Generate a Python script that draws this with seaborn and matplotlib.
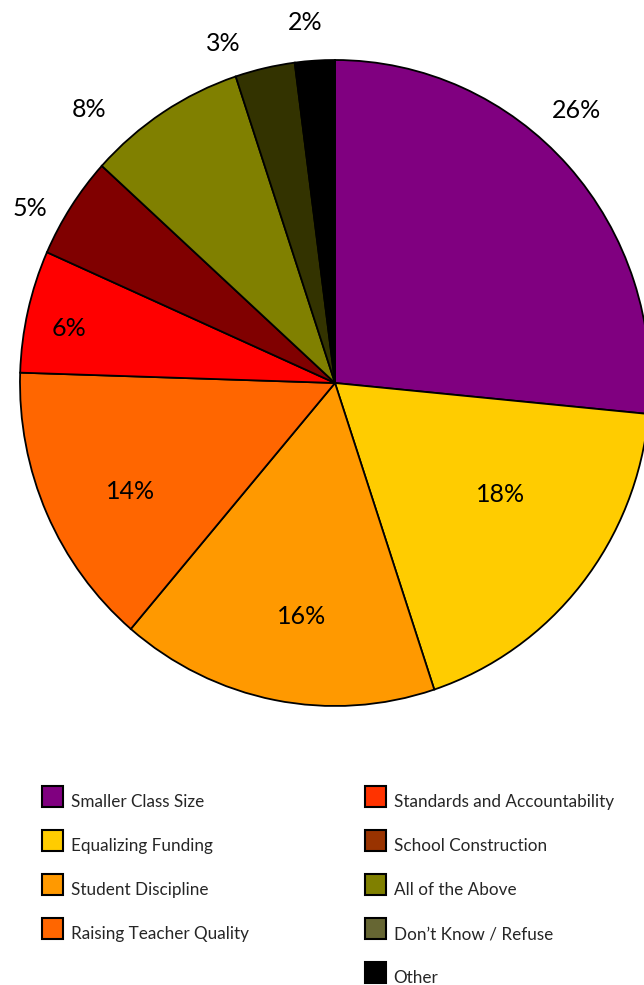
import matplotlib
matplotlib.use("Agg")
import matplotlib.pyplot as plt
from matplotlib.patches import Patch, Rectangle
from matplotlib.legend_handler import HandlerPatch
import numpy as np
import seaborn as sns

# Survey answers: which reform matters most
categories = [
    "Smaller Class Size",
    "Equalizing Funding",
    "Student Discipline",
    "Raising Teacher Quality",
    "Standards and Accountability",
    "School Construction",
    "All of the Above",
    "Don\u2019t Know / Refuse",
    "Other",
]
shares = [26, 18, 16, 14, 6, 5, 8, 3, 2]

slice_colors = ["#800080", "#FFCC00", "#FF9900", "#FF6600", "#FF0000",
                "#800000", "#808000", "#333300", "#000000"]
legend_colors = ["#800080", "#FFCC00", "#FF9900", "#FF6600", "#FF3300",
                 "#993300", "#808000", "#666633", "#000000"]

sns.set_theme(style="white")
plt.rcParams["font.family"] = ["Lato", "DejaVu Sans"]

W, H, DPI = 644, 985, 100
fig = plt.figure(figsize=(W / DPI, H / DPI), dpi=DPI)
ax = fig.add_axes([0, 0, 1, 1])

wedges, _ = ax.pie(
    shares,
    colors=slice_colors,
    startangle=90,
    counterclock=False,
    wedgeprops=dict(edgecolor="black", linewidth=1.3),
)

# pie centre and radii in pixels (slightly taller than wide)
cx, cy, rx, ry = 335, 383, 315, 323
ax.set_aspect("auto")
ax.set_xlim(-cx / rx, (W - cx) / rx)
ax.set_ylim(-(H - cy) / ry, cy / ry)
ax.axis("off")

# percentage labels: distance from centre and angular nudge (deg, ccw)
label_radius = [1.14, 0.63, 0.73, 0.73, 0.86, 1.11, 1.15, 1.11, 1.12]
label_nudge = [5.5, 5.2, 2.7, 3.5, 1.5, 3.9, 9.6, 5.8, 1.2]
for w, v, r, d in zip(wedges, shares, label_radius, label_nudge):
    ang = np.deg2rad((w.theta1 + w.theta2) / 2 + d)
    ax.text(r * np.cos(ang), r * np.sin(ang), f"{v}%",
            ha="center", va="center", fontsize=18, color="black")


def raised_square(legend, orig_handle, xdescent, ydescent, width, height, fontsize):
    # key square sits a little above the text line
    return Rectangle((-xdescent, -ydescent + 0.3 * fontsize), width, height)


handles = [Patch(facecolor=c, edgecolor="black", linewidth=1.5) for c in legend_colors]

common = dict(
    loc="upper left",
    frameon=False,
    fontsize=12.3,
    handlelength=1.23,
    handleheight=1.51,
    handletextpad=0.45,
    labelspacing=1.35,
    borderpad=0,
    borderaxespad=0,
    handler_map={Patch: HandlerPatch(patch_func=raised_square)},
)
fig.legend(handles[:4], categories[:4],
           bbox_to_anchor=(42 / W, 1 - 791 / H), **common)
fig.legend(handles[4:], categories[4:],
           bbox_to_anchor=(365 / W, 1 - 791 / H), **common)

fig.savefig("out.png", dpi=DPI)
